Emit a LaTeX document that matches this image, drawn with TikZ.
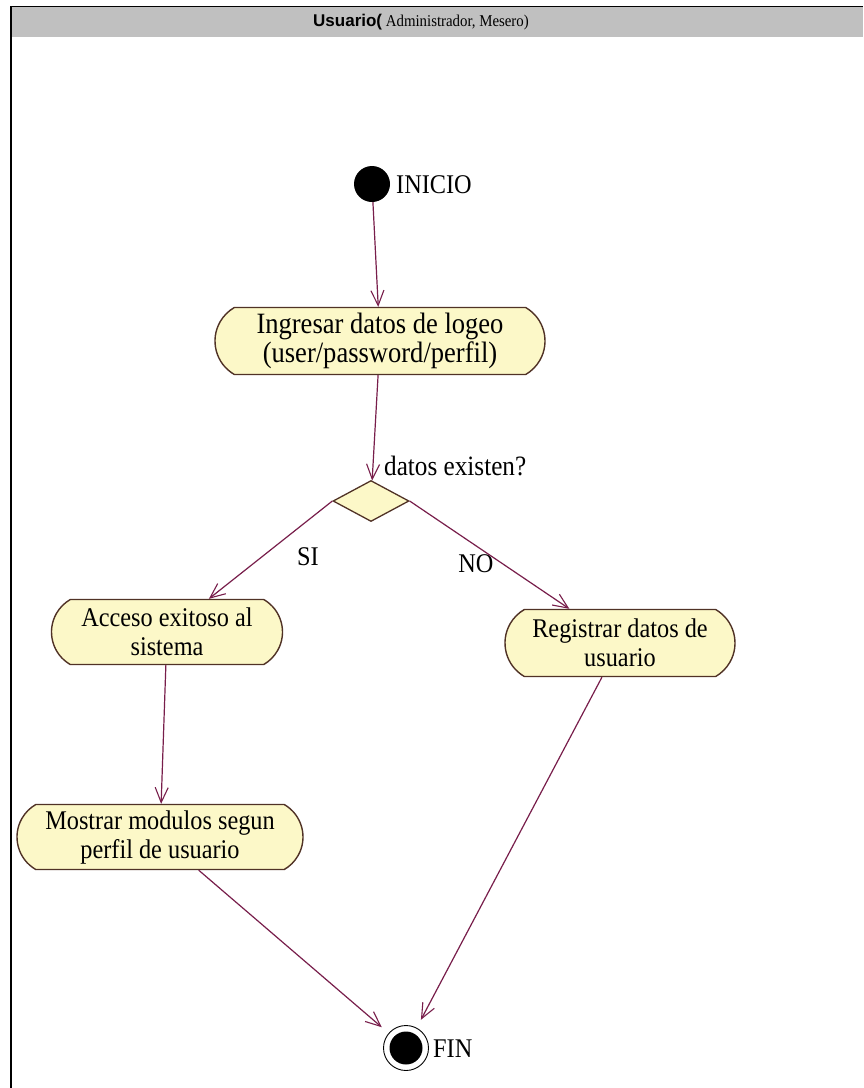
\documentclass[tikz,border=0pt]{standalone}
\usepackage{fontspec}
\setmainfont{Liberation Serif}[FakeStretch=0.9]
\newfontfamily\headsans{Liberation Sans}
\usetikzlibrary{shapes.misc,shapes.geometric,arrows.meta}
\definecolor{actfill}{RGB}{252,248,200}
\definecolor{actedge}{RGB}{80,50,38}
\definecolor{flow}{RGB}{120,30,75}
\definecolor{headgray}{RGB}{192,192,192}
\begin{document}
\begin{tikzpicture}[x=1pt,y=-1pt,
  activity/.style={rounded rectangle, rounded rectangle arc length=120,
    draw=actedge, line width=1.4pt, fill=actfill, inner sep=0pt,
    align=center, font=\fontsize{27}{29}\selectfont},
  decision/.style={diamond, draw=actedge, line width=1.3pt, fill=actfill,
    inner sep=0pt, minimum width=76pt, minimum height=41pt},
  flowline/.style={draw=flow, line width=1.2pt,
    -{Straight Barb[length=15pt,width=13pt,line width=1.1pt]}},
  lbl/.style={font=\fontsize{27}{29}\selectfont, inner sep=0pt}]
\useasboundingbox (0,0) rectangle (863,1088);
\fill[white] (0,0) rectangle (863,1088);

% swimlane header and frame
\fill[headgray] (10,7) rectangle (863,37);
\draw[line width=1.5pt] (10,6.5) -- (863,6.5);
\draw[line width=2pt] (10.5,6) -- (10.5,1088);
\node[inner sep=0pt] (head) at (421,22)
  {{\headsans\bfseries\fontsize{17}{19}\selectfont Usuario(}%
   {\fontsize{16.5}{18}\selectfont\ Administrador, Mesero)}};

% start and end states
\node[circle, fill=black, minimum size=36pt, inner sep=0pt] (start) at (372,184) {};
\node[lbl, anchor=west] (startlbl) at (396,185) {INICIO};

\node[circle, draw=black, line width=0.9pt, fill=white, minimum size=45pt, inner sep=0pt] (fin) at (406,1048) {};
\node[circle, fill=black, minimum size=33pt, inner sep=0pt] (fincore) at (fin) {};
\node[lbl, anchor=west] (finlbl) at (433,1049) {FIN};

% activities
\node[activity, minimum width=330pt, minimum height=67pt] (login) at (380,341)
  {\fontsize{29.5}{30}\selectfont Ingresar datos de logeo\\\fontsize{29.5}{30}\selectfont (user/password/perfil)};
\node[decision] (dec) at (371,501) {};
\node[lbl, anchor=west, font=\fontsize{28}{30}\selectfont] (declbl) at (384,466) {datos existen?};

\node[activity, minimum width=231pt, minimum height=65pt] (acc) at (167,632)
  {Acceso exitoso al\\sistema};
\node[activity, minimum width=230pt, minimum height=67pt] (reg) at (620,643)
  {Registrar datos de\\usuario};
\node[activity, minimum width=286pt, minimum height=65pt] (most) at (160,837)
  {Mostrar modulos segun\\perfil de usuario};

% guard labels
\node[lbl] (si) at (308,557) {SI};
\node[lbl] (no) at (476,564) {NO};

% control flows
\draw[flowline] (start) -- (login);
\draw[flowline] (login) -- (dec);
\draw[flowline] (dec.west) -- (acc);
\draw[flowline] (dec.east) -- (reg);
\draw[flowline] (acc) -- (most);
\draw[flowline, shorten >=9pt] (most) -- (fin);
\draw[flowline, shorten >=9pt] (reg) -- (fin);
\end{tikzpicture}
\end{document}
